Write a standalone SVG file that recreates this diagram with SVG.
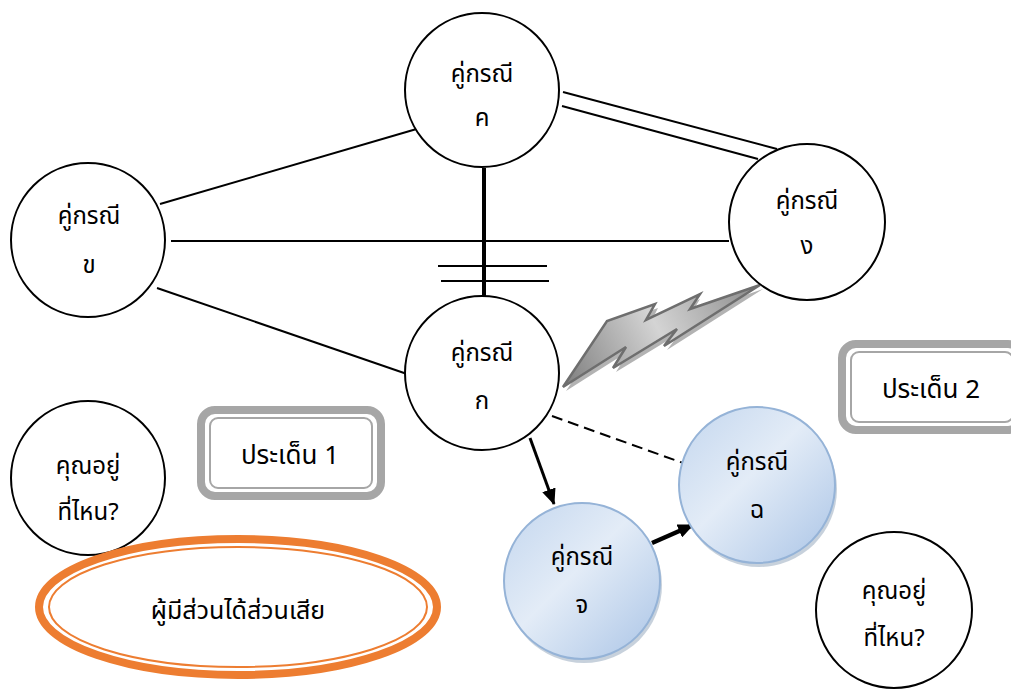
<svg xmlns="http://www.w3.org/2000/svg" width="1011" height="690" viewBox="0 0 1011 690">
  <style>
    .node { fill: #ffffff; stroke: #000000; stroke-width: 2; }
    .blue { fill: url(#blueFill); stroke: #95b3d7; stroke-width: 2; }
    .shade { fill: #8fa3ba; opacity: 0.5; }
    .lbl { font-family: "Noto Sans Thai", "Noto Sans", "Leelawadee UI", Tahoma, sans-serif; font-size: 24px; fill: #000000; text-anchor: middle; }
    .big { font-size: 26px; }
    .link { stroke: #000000; stroke-width: 2; fill: none; }
    .heavy { stroke-width: 4; }
    .arrow3 { stroke-width: 3; }
    .arrow4 { stroke-width: 4.5; }
    .dash { stroke-dasharray: 11 6; }
    .frameOuter { fill: #ffffff; stroke: #a6a6a6; stroke-width: 8; }
    .frameInner { fill: none; stroke: #a6a6a6; stroke-width: 2; }
  </style>
  <defs>
    <linearGradient id="blueFill" x1="0" y1="0" x2="1" y2="1">
      <stop offset="0" stop-color="#c3d6ee"/>
      <stop offset="0.45" stop-color="#e3ecf7"/>
      <stop offset="1" stop-color="#aac4e6"/>
    </linearGradient>
    <linearGradient id="boltFill" gradientUnits="userSpaceOnUse" x1="563" y1="387" x2="760" y2="285">
      <stop offset="0" stop-color="#7d7d7d"/>
      <stop offset="0.5" stop-color="#d4d4d4"/>
      <stop offset="1" stop-color="#8a8a8a"/>
    </linearGradient>
    <marker id="arrow" viewBox="0 0 16 14" refX="15" refY="7" markerWidth="16" markerHeight="14" markerUnits="userSpaceOnUse" orient="auto">
      <path d="M0,0 L16,7 L0,14 Z" fill="#000000"/>
    </marker>
  </defs>

  <!-- connectors -->
  <g id="connectors">
    <line class="link" x1="160" y1="204" x2="420" y2="128"/>
    <line class="link" x1="171" y1="241" x2="729" y2="241"/>
    <line class="link" x1="157" y1="288" x2="407" y2="374"/>
    <!-- double line between ค and ง -->
    <line class="link" x1="563" y1="92" x2="777" y2="149"/>
    <line class="link" x1="562" y1="106" x2="758" y2="159"/>
    <!-- heavy link with crossing bars -->
    <line class="link heavy" x1="484" y1="168" x2="484" y2="296"/>
    <line class="link" x1="438" y1="266" x2="547" y2="266"/>
    <line class="link" x1="441" y1="281" x2="549" y2="281"/>
    <!-- dashed link -->
    <line class="link dash" x1="552" y1="416" x2="683" y2="463"/>
    <!-- arrows -->
    <line class="link arrow3" x1="530" y1="438" x2="554" y2="504" marker-end="url(#arrow)"/>
    <line class="link arrow4" x1="652" y1="543" x2="693" y2="525" marker-end="url(#arrow)"/>
    <!-- lightning bolt between ก and ง -->
    <g id="bolt">
      <path d="M566,391 L610,325 L658,308 L650,324 L700,299 L691,314 L763,289 L667,350 L680,333 L616,372 L629,351 Z" fill="#b3b3b3"/>
      <path d="M563,387 L607,321 L655,304 L646,320 L700,294 L690,309 L760,285 L664,346 L677,329 L613,368 L626,347 Z" fill="url(#boltFill)" stroke="#6e6e6e" stroke-width="2.5" stroke-linejoin="miter"/>
    </g>
  </g>

  <g id="node-kho">
    <circle class="node" cx="88" cy="240" r="77"/>
    <text class="lbl" x="89" y="224">คู่กรณี</text>
    <text class="lbl" x="89" y="273">ข</text>
  </g>
  <g id="node-kho-khwai">
    <circle class="node" cx="482" cy="90" r="77"/>
    <text class="lbl" x="482" y="82">คู่กรณี</text>
    <text class="lbl" x="482" y="126">ค</text>
  </g>
  <g id="node-ngo">
    <circle class="node" cx="807" cy="222" r="78"/>
    <text class="lbl" x="807" y="209">คู่กรณี</text>
    <text class="lbl" x="807" y="254">ง</text>
  </g>
  <g id="node-ko">
    <circle class="node" cx="482" cy="373" r="77"/>
    <text class="lbl" x="482" y="361">คู่กรณี</text>
    <text class="lbl" x="482" y="409">ก</text>
  </g>
  <g id="node-where-left">
    <circle class="node" cx="88" cy="478" r="77"/>
    <text class="lbl" x="88" y="474">คุณอยู่</text>
    <text class="lbl" x="88" y="520">ที่ไหน?</text>
  </g>
  <g id="node-where-right">
    <circle class="node" cx="894" cy="610" r="78"/>
    <text class="lbl" x="894" y="599">คุณอยู่</text>
    <text class="lbl" x="894" y="646">ที่ไหน?</text>
  </g>
  <g id="node-cho">
    <circle class="shade" cx="584" cy="585" r="78"/>
    <circle class="blue" cx="582" cy="581" r="78"/>
    <text class="lbl" x="582" y="565">คู่กรณี</text>
    <text class="lbl" x="582" y="613">จ</text>
  </g>
  <g id="node-chor">
    <circle class="shade" cx="759" cy="489" r="78"/>
    <circle class="blue" cx="757" cy="485" r="78"/>
    <text class="lbl" x="757" y="470">คู่กรณี</text>
    <text class="lbl" x="757" y="518">ฉ</text>
  </g>
  <g id="issue-1">
    <rect class="frameOuter" x="201" y="410" width="180" height="86" rx="14"/>
    <rect class="frameInner" x="210" y="418" width="162" height="70" rx="8"/>
    <text class="lbl big" x="290" y="464">ประเด็น 1</text>
  </g>
  <g id="issue-2">
    <rect class="frameOuter" x="842" y="344" width="180" height="86" rx="14"/>
    <rect class="frameInner" x="851" y="352" width="162" height="70" rx="8"/>
    <text class="lbl big" x="931" y="398">ประเด็น 2</text>
  </g>
  <g id="stakeholders">
    <ellipse cx="238" cy="607" rx="199" ry="68" fill="#ffffff" stroke="#ed7d31" stroke-width="8"/>
    <ellipse cx="238" cy="607" rx="189" ry="60" fill="none" stroke="#ed7d31" stroke-width="2"/>
    <text class="lbl" x="238" y="619" style="font-size:25px">ผู้มีส่วนได้ส่วนเสีย</text>
  </g>
</svg>
